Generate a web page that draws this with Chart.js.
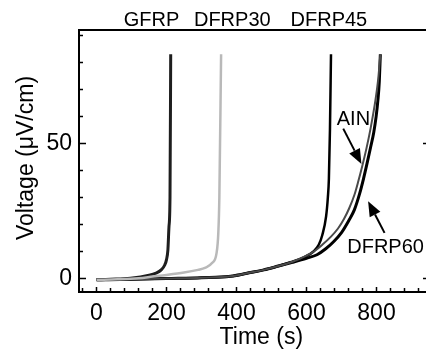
<!DOCTYPE html>
<html>
<head>
<meta charset="utf-8">
<script src="https://cdn.jsdelivr.net/npm/chart.js@4.4.1/dist/chart.umd.min.js"></script>
<style>
  html, body { margin: 0; padding: 0; background: #fff; overflow: hidden; }
  #wrap { width: 432px; height: 349px; }
</style>
</head>
<body>
<div id="wrap"><canvas id="chart-voltage" width="432" height="349"></canvas></div>
<script>
// tick labels
const xTickLabels = [0, 200, 400, 600, 800];
const yTickLabels = [0, 50];

// series: time (s) / voltage (uV/cm)
const gfrpTime = [0, 40, 97, 150, 170, 185, 195, 200, 204, 207, 210, 212];
const gfrpVolt = [-0.5, -0.3, 0.1, 1.2, 2.0, 3.2, 5.0, 7.0, 10.6, 19, 30, 83];

const dfrp30Time = [0, 60, 120, 160, 200, 250, 290, 310, 330, 343, 348, 351, 356];
const dfrp30Volt = [-0.5, -0.3, 0.1, 0.7, 1.3, 2.2, 3.2, 3.9, 5.7, 9.4, 16.8, 30, 83];

const dfrp45Time = [0, 100, 200, 300, 383, 440, 478, 520, 554, 592, 620, 635, 645, 656, 661, 664, 667, 670];
const dfrp45Volt = [-0.5, -0.3, 0, 0.3, 0.8, 2.2, 3.2, 4.6, 6.0, 7.8, 10, 12.5, 16, 23, 30, 37, 55, 83];

const ainTime = [0, 100, 200, 300, 383, 440, 478, 520, 560, 600, 621, 645, 670, 690, 707, 722, 737, 748, 759, 771, 783, 797, 805, 811];
const ainVolt = [-0.5, -0.3, 0, 0.3, 0.8, 2.2, 3.2, 4.6, 6.2, 8.5, 10, 12.5, 15.5, 18.5, 22, 26, 31, 36, 41.5, 48, 55.5, 66, 74, 83];

const dfrp60Time = [0, 100, 200, 300, 383, 440, 478, 520, 560, 600, 630, 655, 678, 700, 721, 737, 752, 763, 773, 783, 792, 799, 804, 808, 811];
const dfrp60Volt = [-0.5, -0.3, 0, 0.3, 0.8, 2.2, 3.2, 4.6, 6.0, 7.5, 8.8, 11, 13.7, 17, 21.5, 25.5, 31.5, 37, 42.6, 48.5, 54, 60, 66, 73, 83];

const FONT = "'Liberation Sans', Arial, Helvetica, sans-serif";

const pts = (xs, ys) => xs.map((x, i) => ({ x, y: ys[i] }));

const series = (label, xs, ys, color, width) => ({
  label,
  data: pts(xs, ys),
  borderColor: color,
  borderWidth: width,
  pointRadius: 0,
  fill: false,
  cubicInterpolationMode: 'monotone'
});

// text and arrows, anchored in data units
const topLabels = [
  { text: 'GFRP', x: 157 },
  { text: 'DFRP30', x: 388 },
  { text: 'DFRP45', x: 664 }
];
const notes = [
  { text: 'AIN', x: 734, y: 56.8, tail: [705, 55.5], tip: [757, 42.4] },
  { text: 'DFRP60', x: 826, y: 9.5, tail: [823, 16.9], tip: [776, 28.6] }
];

function arrow(ctx, x1, y1, x2, y2) {
  const a = Math.atan2(y2 - y1, x2 - x1);
  const len = 15, half = 6;
  const bx = x2 - len * Math.cos(a), by = y2 - len * Math.sin(a);
  ctx.beginPath();
  ctx.moveTo(x1, y1);
  ctx.lineTo(bx, by);
  ctx.lineWidth = 2;
  ctx.stroke();
  ctx.beginPath();
  ctx.moveTo(x2, y2);
  ctx.lineTo(bx + half * Math.sin(a), by - half * Math.cos(a));
  ctx.lineTo(bx - half * Math.sin(a), by + half * Math.cos(a));
  ctx.closePath();
  ctx.fill();
}

const framePlugin = {
  id: 'frame',
  afterDraw(chart) {
    const { ctx, chartArea: ca, scales: { x, y } } = chart;
    ctx.save();
    ctx.strokeStyle = '#000';
    ctx.fillStyle = '#000';
    ctx.lineWidth = 2;
    ctx.beginPath();
    ctx.moveTo(ca.right, ca.top);
    ctx.lineTo(ca.left, ca.top);
    ctx.lineTo(ca.left, ca.bottom);
    ctx.lineTo(ca.right, ca.bottom);
    ctx.lineTo(ca.right, ca.top);
    ctx.stroke();

    // inward ticks
    ctx.lineWidth = 1.5;
    ctx.beginPath();
    for (let v = -40; v <= 920; v += 40) {
      const px = x.getPixelForValue(v);
      const len = xTickLabels.includes(v) ? 5 : 4;
      ctx.moveTo(px, ca.bottom);
      ctx.lineTo(px, ca.bottom - len);
    }
    for (let v = 0; v <= 90; v += 10) {
      const py = y.getPixelForValue(v);
      const len = yTickLabels.includes(v) ? 7 : 4;
      ctx.moveTo(ca.left, py);
      ctx.lineTo(ca.left + len, py);
    }
    yTickLabels.forEach(v => {
      const py = y.getPixelForValue(v);
      ctx.moveTo(ca.right, py);
      ctx.lineTo(ca.right - 6, py);
    });
    ctx.stroke();

    // labels above the plot
    ctx.font = '20px ' + FONT;
    ctx.textAlign = 'center';
    ctx.textBaseline = 'alphabetic';
    topLabels.forEach(l => ctx.fillText(l.text, x.getPixelForValue(l.x), ca.top - 4));

    // annotations
    notes.forEach(n => {
      ctx.fillText(n.text, x.getPixelForValue(n.x), y.getPixelForValue(n.y));
      arrow(ctx,
        x.getPixelForValue(n.tail[0]), y.getPixelForValue(n.tail[1]),
        x.getPixelForValue(n.tip[0]), y.getPixelForValue(n.tip[1]));
    });

    // axis titles
    ctx.font = '23px ' + FONT;
    ctx.fillText('Time (s)', x.getPixelForValue(471), 344);
    ctx.translate(33, (ca.top + ca.bottom) / 2 - 3);
    ctx.rotate(-Math.PI / 2);
    ctx.fillText('Voltage (\u03BCV/cm)', 0, 0);
    ctx.restore();
  }
};

new Chart(document.getElementById('chart-voltage'), {
  type: 'line',
  data: {
    datasets: [
      series('DFRP30', dfrp30Time, dfrp30Volt, '#b9b9b9', 2.5),
      series('GFRP', gfrpTime, gfrpVolt, '#1e1e1e', 3),
      series('AIN', ainTime, ainVolt, '#4a4a4a', 2),
      series('DFRP45', dfrp45Time, dfrp45Volt, '#000', 2.5),
      series('DFRP60', dfrp60Time, dfrp60Volt, '#000', 3)
    ]
  },
  options: {
    responsive: false,
    animation: false,
    layout: { padding: { top: 30, right: 3, left: 0, bottom: 0 } },
    plugins: {
      legend: { display: false },
      tooltip: { enabled: false }
    },
    scales: {
      x: {
        type: 'linear',
        min: -50,
        max: 950,
        grid: { display: false, drawTicks: false },
        border: { display: false },
        afterBuildTicks: s => { s.ticks = xTickLabels.map(v => ({ value: v })); },
        afterFit: s => { s.height = 57; },
        ticks: { color: '#000', padding: 8, maxRotation: 0, font: { family: FONT, size: 23 } }
      },
      y: {
        min: -5,
        max: 92,
        grid: { display: false, drawTicks: false },
        border: { display: false },
        afterBuildTicks: s => { s.ticks = yTickLabels.map(v => ({ value: v })); },
        afterFit: s => { s.width = 79; },
        ticks: { color: '#000', padding: 7, font: { family: FONT, size: 23 } }
      }
    }
  },
  plugins: [framePlugin]
});
</script>
</body>
</html>
